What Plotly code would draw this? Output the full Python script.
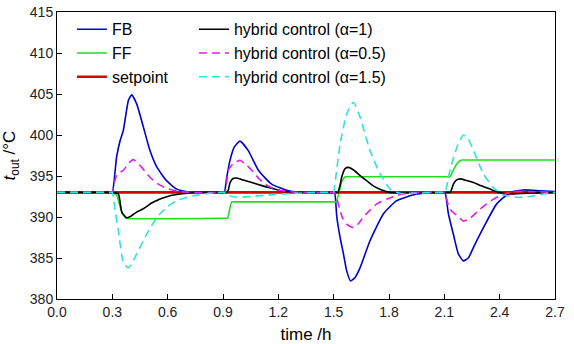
import plotly.graph_objects as go

# ---------------- data ----------------
t_fb = [0, 0.29, 0.30, 0.323, 0.342, 0.36, 0.387, 0.405, 0.432, 0.468, 0.504, 0.541, 0.595, 0.649, 0.72, 0.89,
        0.907, 0.92, 0.938, 0.96, 0.992, 1.037, 1.092, 1.164, 1.254, 1.35, 1.495, 1.505,
        1.517, 1.535, 1.553, 1.571, 1.592, 1.615, 1.643, 1.697, 1.77, 1.842, 1.95, 2.05, 2.095, 2.104,
        2.122, 2.149, 2.176, 2.203, 2.23, 2.258, 2.312, 2.384, 2.457, 2.529, 2.62, 2.7]
y_fb = [393, 393, 393, 397.3, 399.3, 400.6, 404.2, 404.9, 403.8, 401.0, 398.1, 396.1, 394.4, 393.4, 393.05, 393.0,
        393.0, 394.8, 396.9, 398.5, 399.25, 398.1, 395.7, 394.0, 393.2, 393.0, 393.0, 393.0,
        390.0, 387.5, 385.5, 383.4, 382.2, 382.6, 383.8, 387.1, 390.4, 392.0, 392.8, 393.0, 393.0, 393.0,
        390.4, 387.9, 385.5, 384.65, 385.0, 386.3, 388.7, 391.6, 393.0, 393.3, 393.2, 393.1]

t_ff = [0, 0.29, 0.30, 0.325, 0.345, 0.36, 0.377, 0.915, 0.925, 0.935, 0.947, 0.957, 1.503, 1.513, 1.525, 1.545,
        1.562, 1.572, 2.121, 2.131, 2.155, 2.176, 2.195, 2.205, 2.7]
y_ff = [393, 393, 393, 392.6, 391.0, 390.2, 389.85, 389.85, 389.85, 390.8, 391.85, 391.85, 391.85, 391.85, 392.6, 394.4,
        394.9, 394.9, 394.9, 394.9, 396.0, 396.7, 396.95, 396.95, 396.95]

t_sp = [0, 2.7]
y_sp = [393, 393]

t_h1 = [0, 0.29, 0.30, 0.333, 0.351, 0.377, 0.40, 0.432, 0.468, 0.513, 0.559, 0.613, 0.667, 0.75, 0.91, 0.92,
        0.929, 0.938, 0.955, 0.975, 1.01, 1.056, 1.10, 1.146, 1.236, 1.30, 1.51, 1.522,
        1.535, 1.544, 1.562, 1.58, 1.61, 1.643, 1.68, 1.715, 1.76, 1.806, 2.12, 2.131,
        2.14, 2.149, 2.165, 2.186, 2.22, 2.258, 2.30, 2.348, 2.402, 2.45, 2.55, 2.7]
y_h1 = [393, 393, 393, 392.8, 390.6, 389.9, 390.1, 390.6, 391.0, 391.7, 392.2, 392.6, 392.8, 393.0, 393.0, 393.0,
        393.3, 394.2, 394.7, 394.75, 394.5, 394.2, 393.9, 393.6, 393.1, 393.0, 393.0, 393.0,
        393.9, 394.9, 395.9, 396.05, 395.7, 395.05, 394.4, 393.8, 393.3, 393.0, 393.0, 393.0,
        393.4, 394.0, 394.5, 394.65, 394.45, 394.2, 393.8, 393.4, 392.95, 392.8, 392.9, 393.0]

t_h05 = [0, 0.29, 0.30, 0.312, 0.324, 0.345, 0.36, 0.39, 0.414, 0.45, 0.504, 0.55, 0.595, 0.65, 0.72, 0.90, 0.91,
         0.92, 0.929, 0.955, 0.992, 1.02, 1.056, 1.09, 1.128, 1.17, 1.218, 1.30, 1.495, 1.505,
         1.52, 1.535, 1.55, 1.571, 1.607, 1.635, 1.661, 1.70, 1.734, 1.79, 1.842, 1.90, 1.969, 2.095, 2.104,
         2.112, 2.122, 2.14, 2.168, 2.203, 2.23, 2.258, 2.29, 2.33, 2.365, 2.402, 2.475, 2.56, 2.7]
y_h05 = [393, 393, 393, 394.3, 395.1, 395.5, 395.7, 396.6, 397.0, 396.3, 394.85, 394.0, 393.5, 393.15, 393.0, 393.0, 393.0,
         394.2, 395.7, 396.5, 396.9, 396.5, 395.7, 394.8, 394.0, 393.5, 393.2, 393.0, 393.0, 393.0,
         392.0, 390.8, 389.8, 389.1, 388.7, 389.2, 390.0, 390.9, 391.6, 392.2, 392.65, 392.9, 393.0, 393.0, 393.0,
         392.3, 391.4, 390.7, 390.2, 389.5, 389.7, 390.2, 390.9, 391.6, 392.15, 392.6, 393.1, 393.1, 393.0]

t_h15 = [0, 0.29, 0.30, 0.315, 0.333, 0.36, 0.387, 0.41, 0.432, 0.486, 0.52, 0.559, 0.60, 0.649, 0.739, 0.83, 0.905,
         0.93, 0.983, 1.05, 1.15, 1.30, 1.40, 1.49, 1.499,
         1.515, 1.535, 1.571, 1.607, 1.643, 1.697, 1.752, 1.806, 1.86, 1.95, 2.05, 2.095, 2.104,
         2.131, 2.168, 2.203, 2.23, 2.258, 2.312, 2.366, 2.42, 2.493, 2.565, 2.637, 2.7]
y_h15 = [393, 393, 393, 390.8, 388.3, 384.4, 383.8, 384.5, 385.5, 387.9, 389.2, 390.4, 391.3, 392.0, 392.6, 392.9, 393.0,
         392.6, 392.4, 392.5, 392.7, 392.9, 393.0, 393.0, 393.0,
         395.5, 398.9, 402.6, 404.0, 402.2, 398.1, 395.25, 393.4, 392.9, 392.9, 393.0, 393.0, 393.0,
         395.7, 398.5, 400.0, 399.5, 398.1, 395.25, 393.6, 392.7, 392.4, 392.5, 392.8, 393.0]

x_ticks = [0.0, 0.3, 0.6, 0.9, 1.2, 1.5, 1.8, 2.1, 2.4, 2.7]
y_ticks = [380, 385, 390, 395, 400, 405, 410, 415]

# ---------------- figure ----------------
fig = go.Figure()
SM = 0.5
fig.add_trace(go.Scatter(x=t_fb, y=y_fb, mode="lines", name="FB", legend="legend",
                         line=dict(color="#0000CC", width=1.6, shape="spline", smoothing=SM)))
fig.add_trace(go.Scatter(x=t_ff, y=y_ff, mode="lines", name="FF", legend="legend",
                         line=dict(color="#22DD22", width=1.6, shape="spline", smoothing=0.3)))
fig.add_trace(go.Scatter(x=t_sp, y=y_sp, mode="lines", name="setpoint", legend="legend",
                         line=dict(color="#DD0000", width=2.6)))
fig.add_trace(go.Scatter(x=t_h1, y=y_h1, mode="lines", name="hybrid control (α=1)", legend="legend2",
                         line=dict(color="#000000", width=1.6, shape="spline", smoothing=SM)))
fig.add_trace(go.Scatter(x=t_h05, y=y_h05, mode="lines", name="hybrid control (α=0.5)", legend="legend2",
                         line=dict(color="#E020E0", width=1.6, dash="8px,5px", shape="spline", smoothing=SM)))
fig.add_trace(go.Scatter(x=t_h15, y=y_h15, mode="lines", name="hybrid control (α=1.5)", legend="legend2",
                         line=dict(color="#33E0E0", width=1.6, dash="8px,5px", shape="spline", smoothing=SM)))

font_family = "Liberation Sans, Arial, sans-serif"
leg_common = dict(bgcolor="rgba(0,0,0,0)", borderwidth=0, font=dict(family=font_family, size=16, color="#000"),
                  yanchor="top", xanchor="left", tracegroupgap=0)

fig.update_layout(
    width=574, height=344,
    margin=dict(l=57, r=19, t=12, b=45, autoexpand=False),
    paper_bgcolor="white", plot_bgcolor="white",
    font=dict(family=font_family, size=14, color="#000"),
    legend=dict(x=0.030, y=0.999, **leg_common),
    legend2=dict(x=0.275, y=0.999, **leg_common),
    xaxis=dict(range=[0, 2.7], tickvals=x_ticks, ticktext=[f"{v:.1f}" for v in x_ticks],
               ticks="inside", ticklen=5, tickcolor="#000", showline=True, linecolor="#000", linewidth=1,
               mirror=True, showgrid=False, zeroline=False,
               tickfont=dict(size=14, color="#222"),
               title=dict(text="time /h", font=dict(size=17), standoff=15)),
    yaxis=dict(range=[380, 415], tickvals=y_ticks,
               ticks="inside", ticklen=5, tickcolor="#000", showline=True, linecolor="#000", linewidth=1,
               mirror=True, showgrid=False, zeroline=False,
               tickfont=dict(size=14, color="#222"),
               title=dict(text="<i>t</i><sub>out</sub> /°C", font=dict(size=17))),
)

fig.write_html("out.html")
